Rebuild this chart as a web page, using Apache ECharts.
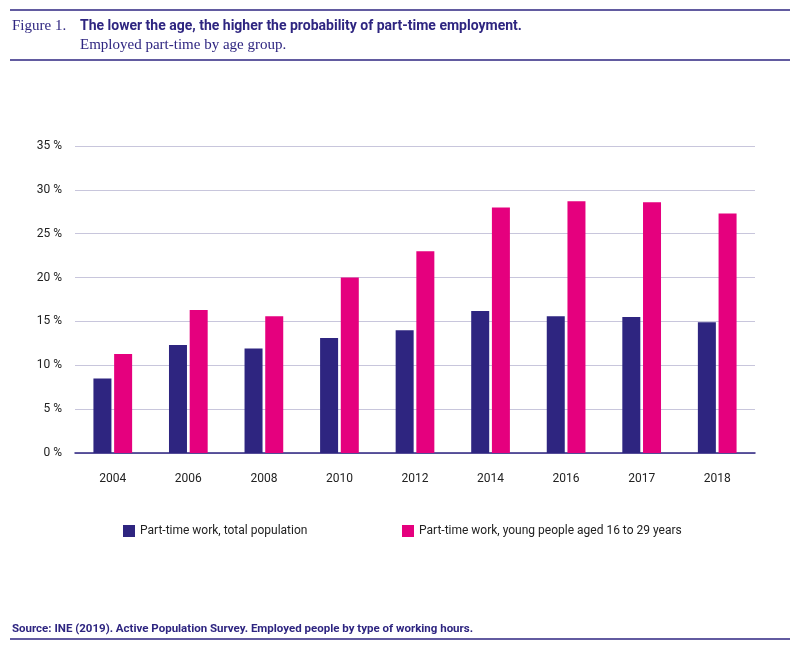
<!DOCTYPE html>
<html><head><meta charset="utf-8">
<script src="https://cdn.jsdelivr.net/npm/echarts@6/dist/echarts.min.js"></script>
<style>body{margin:0;background:#fff}#c{width:800px;height:650px}</style>
</head><body><div id="c"></div>
<script>
var years = ["2004","2006","2008","2010","2012","2014","2016","2017","2018"];
var totalPop = [8.5, 12.3, 11.9, 13.1, 14.0, 16.2, 15.6, 15.5, 14.9];
var youngPop = [11.3, 16.3, 15.6, 20.0, 23.0, 28.0, 28.7, 28.6, 27.3];
var nameTotal = "Part-time work, total population";
var nameYoung = "Part-time work, young people aged 16 to 29 years";
var navy = "#2e2580", pink = "#e5007e";

var chart = echarts.init(document.getElementById("c"));
chart.setOption({
  animation: false,
  textStyle: { fontFamily: "Roboto" },
  graphic: [
    { type: "line", shape: { x1: 10, y1: 10, x2: 790, y2: 10 }, style: { stroke: navy, lineWidth: 1.5 } },
    { type: "line", shape: { x1: 10, y1: 60, x2: 790, y2: 60 }, style: { stroke: navy, lineWidth: 1.5 } },
    { type: "line", shape: { x1: 10, y1: 639, x2: 790, y2: 639 }, style: { stroke: navy, lineWidth: 1.5 } },
    { type: "text", left: 12, top: 19, style: { text: "Figure 1.", font: "15px 'Liberation Serif'", fill: navy } },
    { type: "text", left: 80, top: 19, style: { text: "The lower the age, the higher the probability of part-time employment.", font: "bold 14px Roboto", fill: navy } },
    { type: "text", left: 80, top: 38, style: { text: "Employed part-time by age group.", font: "15px 'Liberation Serif'", fill: navy } },
    { type: "text", left: 12, top: 623, style: { text: "Source: INE (2019). Active Population Survey. Employed people by type of working hours.", font: "bold 11.5px Roboto", fill: navy } }
  ],
  legend: [
    { data: [nameTotal], left: 118, top: 520, itemWidth: 12, itemHeight: 12, icon: "rect", textStyle: { fontSize: 12, color: "#222" } },
    { data: [nameYoung], left: 397, top: 520, itemWidth: 12, itemHeight: 12, icon: "rect", textStyle: { fontSize: 12, color: "#222" } }
  ],
  grid: { left: 75, right: 45, top: 146, bottom: 197 },
  xAxis: {
    type: "category", data: years,
    axisLine: { lineStyle: { color: navy, width: 1.5 } },
    axisTick: { show: false },
    axisLabel: { color: "#222", fontSize: 12, margin: 20 }
  },
  yAxis: {
    type: "value", min: 0, max: 35, interval: 5,
    axisLine: { show: false }, axisTick: { show: false },
    axisLabel: { formatter: "{value} %", color: "#222", fontSize: 12, margin: 13 },
    splitLine: { lineStyle: { color: "#c8c6dc" } }
  },
  series: [
    { name: nameTotal, type: "bar", data: totalPop, barWidth: 18, barGap: "15%", itemStyle: { color: navy } },
    { name: nameYoung, type: "bar", data: youngPop, barWidth: 18, itemStyle: { color: pink } }
  ]
});
</script></body></html>
